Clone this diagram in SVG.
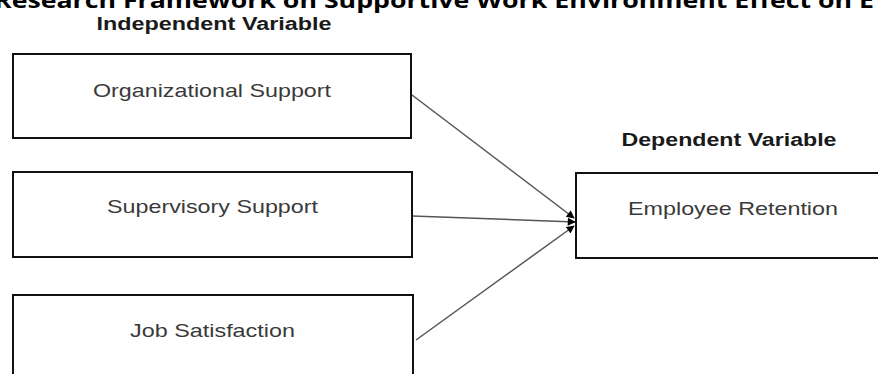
<svg xmlns="http://www.w3.org/2000/svg" width="878" height="374" viewBox="0 0 878 374">
<defs>
<style>
.box{fill:#fff;stroke:#111;stroke-width:2}
.lbl{font-family:"Liberation Sans",Arial,sans-serif;font-size:19px;fill:#3a3a3a;text-anchor:middle}
.hdr{font-family:"Liberation Sans",Arial,sans-serif;font-size:18px;font-weight:bold;fill:#1a1a1a;text-anchor:middle}
.title{font-family:"Open Sans","Liberation Sans",sans-serif;font-size:21px;font-weight:bold;fill:#000}
.conn{stroke:#555;stroke-width:1.5;fill:none}
</style>
<marker id="arr" viewBox="0 0 10 10" refX="9" refY="5" markerWidth="9" markerHeight="8" markerUnits="userSpaceOnUse" orient="auto">
<path d="M0,0 L10,5 L0,10 z" fill="#000"/>
</marker>
</defs>
<rect width="878" height="374" fill="#fff"/>
<text class="title" x="-6" y="8" textLength="880" lengthAdjust="spacingAndGlyphs">Research Framework on Supportive Work Environment Effect on E</text>
<text class="hdr" x="214" y="30" textLength="235" lengthAdjust="spacingAndGlyphs">Independent Variable</text>
<text class="hdr" x="729" y="146" textLength="215" lengthAdjust="spacingAndGlyphs">Dependent Variable</text>
<g id="connectors">
<line class="conn" x1="412" y1="95" x2="574" y2="218" marker-end="url(#arr)"/>
<line class="conn" x1="412" y1="216" x2="575" y2="222" marker-end="url(#arr)"/>
<line class="conn" x1="416" y1="340" x2="574" y2="226" marker-end="url(#arr)"/>
</g>
<g id="org">
<rect class="box" x="13" y="54" width="398" height="84"/>
<text class="lbl" x="212" y="97" textLength="238" lengthAdjust="spacingAndGlyphs">Organizational Support</text>
</g>
<g id="sup">
<rect class="box" x="13" y="172" width="399" height="85"/>
<text class="lbl" x="212.5" y="213" textLength="211" lengthAdjust="spacingAndGlyphs">Supervisory Support</text>
</g>
<g id="job">
<rect class="box" x="13" y="295" width="400" height="100"/>
<text class="lbl" x="212.5" y="337" textLength="165" lengthAdjust="spacingAndGlyphs">Job Satisfaction</text>
</g>
<g id="ret">
<rect class="box" x="576" y="173" width="320" height="85"/>
<text class="lbl" x="733" y="215" textLength="210" lengthAdjust="spacingAndGlyphs">Employee Retention</text>
</g>
</svg>
